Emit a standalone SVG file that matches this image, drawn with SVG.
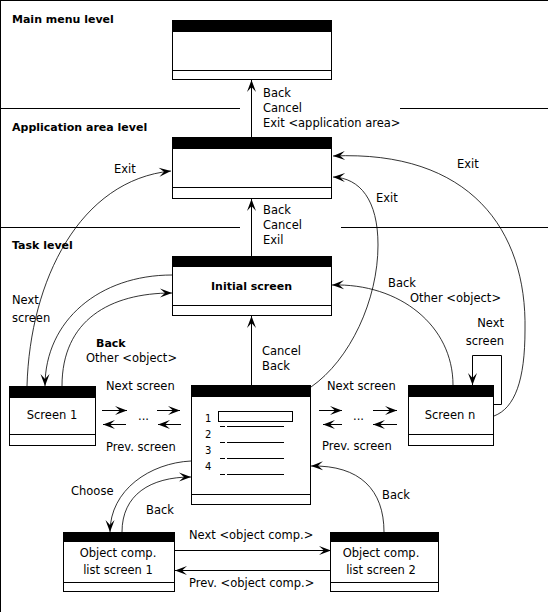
<svg xmlns="http://www.w3.org/2000/svg" width="548" height="612" viewBox="0 0 548 612">
<style>
text{font-family:"DejaVu Sans","Liberation Sans",sans-serif;font-size:11.5px;fill:#000}
.b{font-weight:bold;font-size:11px}
.m{text-anchor:middle}
.d{font-size:10px}
.box{fill:#fff;stroke:#000;stroke-width:1}
.hd{fill:#000}
.ln{fill:none;stroke:#000;stroke-width:1}
.c{fill:none;stroke:#000;stroke-width:0.8}
.a{marker-end:url(#ah)}
</style>
<defs>
<marker id="ah" viewBox="-13 -6 14 12" markerWidth="14" markerHeight="12" refX="0" refY="0" orient="auto" markerUnits="userSpaceOnUse">
<path d="M0,0 L-12,-4.5 L-7,0 L-12,4.5 Z" fill="#000"/>
</marker>
</defs>
<rect width="548" height="612" fill="#fff"/>
<g id="frame">
<path class="ln" d="M0.5,0 V612 M0,0.5 H548"/>
<path class="ln" d="M0,108.5 H240 M400,108.5 H548 M0,227.5 H240 M341,227.5 H548"/>
<text class="b" x="12" y="23">Main menu level</text>
<text class="b" x="12" y="131">Application area level</text>
<text class="b" x="12" y="249">Task level</text>
</g>
<g id="connectors">
<path class="ln a" d="M251.5,137 V80"/>
<path class="ln a" d="M251.5,256 V199"/>
<path class="ln a" d="M251.5,385 V316"/>
<path class="c a" d="M27,386 C30,280 80,180 171,171"/>
<path class="c a" d="M172,275 C100,275 45,320 45,386"/>
<path class="c a" d="M62,386 C62,320 110,293 172,293"/>
<path class="c a" d="M453,385 C453,326 400,283 332,285"/>
<path class="c a" d="M494,416 C515,408 525,380 525,330 C527,230 470,150 333,156"/>
<path class="c a" d="M311,387 C350,360 378,300 378,245 C378,200 360,178 333,177"/>
<path class="ln a" d="M494,404.5 H501.5 V355.5 H472.5 V385"/>
<path class="ln a" d="M102,410.5 H127"/>
<path class="ln a" d="M157,410.5 H180"/>
<path class="ln a" d="M126,424.5 H103"/>
<path class="ln a" d="M181,424.5 H158"/>
<path class="ln a" d="M319,410.5 H342"/>
<path class="ln a" d="M373,410.5 H397"/>
<path class="ln a" d="M342,424.5 H323"/>
<path class="ln a" d="M397,424.5 H373"/>
<path class="c a" d="M191,461 C150,463 110,490 110,532"/>
<path class="c a" d="M122,532 C122,495 150,477 191,477"/>
<path class="c a" d="M384,532 C384,490 360,465 311,466"/>
<path class="ln a" d="M175,550.5 H331"/>
<path class="ln a" d="M331,570.5 H175"/>
<text x="263" y="97">Back</text>
<text x="263" y="112">Cancel</text>
<text x="263" y="127">Exit &lt;application area&gt;</text>
<text x="263" y="214">Back</text>
<text x="263" y="229">Cancel</text>
<text x="263" y="244">Exil</text>
<text x="262" y="355">Cancel</text>
<text x="262" y="370">Back</text>
<text x="114" y="173">Exit</text>
<text x="457" y="168">Exit</text>
<text x="376" y="202">Exit</text>
<text x="12" y="304">Next</text>
<text x="12" y="322">screen</text>
<text class="b" x="96" y="347">Back</text>
<text x="86" y="362">Other &lt;object&gt;</text>
<text x="388" y="287">Back</text>
<text x="410" y="302">Other &lt;object&gt;</text>
<text x="504" y="327" text-anchor="end">Next</text>
<text x="504" y="345" text-anchor="end">screen</text>
<text x="106" y="390">Next screen</text>
<text x="106" y="451">Prev. screen</text>
<text x="138" y="420">...</text>
<text x="327" y="390">Next screen</text>
<text x="322" y="450">Prev. screen</text>
<text x="353" y="420">...</text>
<text x="71" y="495">Choose</text>
<text x="146" y="514">Back</text>
<text x="382" y="499">Back</text>
<text x="189" y="539">Next &lt;object comp.&gt;</text>
<text x="189" y="587">Prev. &lt;object comp.&gt;</text>
</g>
<g id="main-menu">
<rect class="box" x="172.5" y="20.5" width="159" height="59"/>
<rect class="hd" x="172" y="20" width="160" height="12"/>
<path class="ln" d="M172.5,70.5 H331.5"/>
</g>
<g id="application-area">
<rect class="box" x="172.5" y="137.5" width="159" height="61"/>
<rect class="hd" x="172" y="137" width="160" height="12"/>
<path class="ln" d="M172.5,187.5 H331.5"/>
</g>
<g id="initial-screen">
<rect class="box" x="172.5" y="256.5" width="159" height="59"/>
<rect class="hd" x="172" y="256" width="160" height="11"/>
<path class="ln" d="M172.5,305.5 H331.5"/>
<text class="b m" x="251.5" y="290">Initial screen</text>
</g>
<g id="screen-1">
<rect class="box" x="9.5" y="386.5" width="86" height="59"/>
<rect class="hd" x="9" y="386" width="87" height="12"/>
<path class="ln" d="M9.5,434.5 H95.5"/>
<text class="m" x="52" y="419">Screen 1</text>
</g>
<g id="list-screen">
<rect class="box" x="191.5" y="385.5" width="119" height="119"/>
<rect class="hd" x="191" y="385" width="120" height="12"/>
<path class="ln" d="M191.5,494.5 H310.5"/>
<rect class="ln" x="218.5" y="411.5" width="74" height="10"/>
<path class="ln" d="M220,426.5 H284 M220,442.5 H284 M220,458.5 H284 M220,474.5 H284" stroke-dasharray="5 2 100"/>
<text class="d" x="205" y="422">1</text>
<text class="d" x="205" y="438">2</text>
<text class="d" x="205" y="454">3</text>
<text class="d" x="205" y="470">4</text>
</g>
<g id="screen-n">
<rect class="box" x="408.5" y="385.5" width="85" height="60"/>
<rect class="hd" x="408" y="385" width="86" height="12"/>
<path class="ln" d="M408.5,434.5 H493.5"/>
<text class="m" x="450" y="419">Screen n</text>
</g>
<g id="object-list-1">
<rect class="box" x="63.5" y="532.5" width="111" height="59"/>
<rect class="hd" x="63" y="532" width="112" height="10"/>
<path class="ln" d="M63.5,582.5 H174.5"/>
<text class="m" x="118" y="557">Object comp.</text>
<text class="m" x="118" y="574">list screen 1</text>
</g>
<g id="object-list-2">
<rect class="box" x="330.5" y="532.5" width="108" height="59"/>
<rect class="hd" x="330" y="532" width="109" height="10"/>
<path class="ln" d="M330.5,582.5 H438.5"/>
<text class="m" x="381" y="557">Object comp.</text>
<text class="m" x="381" y="574">list screen 2</text>
</g>
</svg>
